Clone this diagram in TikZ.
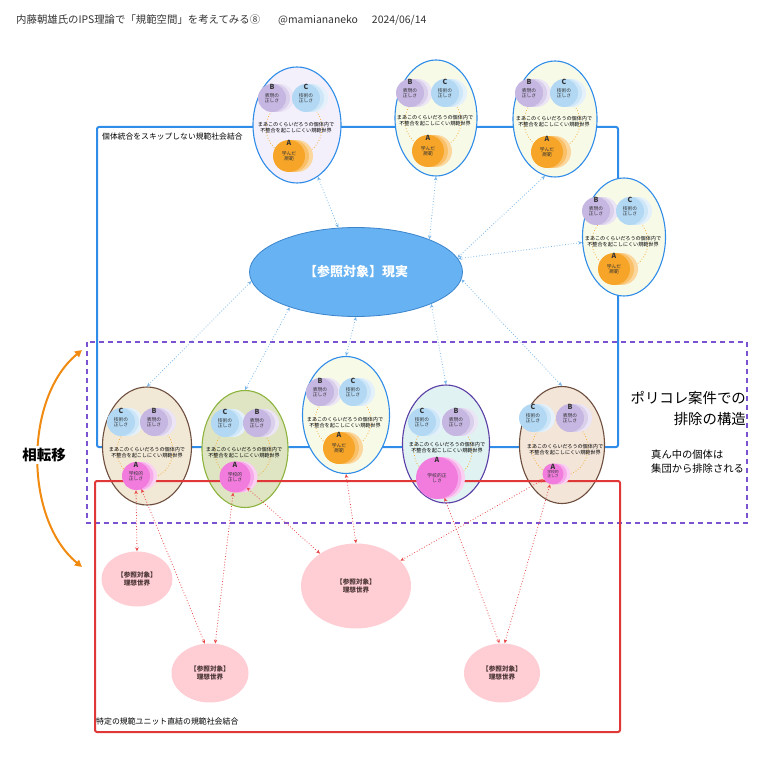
\documentclass[tikz,border=0pt]{standalone}
\usepackage{fontspec}
\setmainfont{Noto Sans CJK JP}
\usetikzlibrary{shapes.geometric,arrows.meta,shadows}

\definecolor{frameblue}{HTML}{2F8CE8}
\definecolor{realblue}{HTML}{66B2F2}
\definecolor{realedge}{HTML}{3C84CC}
\definecolor{arrowblue}{HTML}{78B6EA}
\definecolor{framered}{HTML}{E03838}
\definecolor{arrowred}{HTML}{E84848}
\definecolor{framepurple}{HTML}{7B52CF}
\definecolor{idealpink}{HTML}{FFCDD4}
\definecolor{idealtext}{HTML}{4A3434}
\definecolor{phaseorange}{HTML}{F08A10}
\definecolor{ringorange}{HTML}{F5B041}
\definecolor{lav}{HTML}{C6B6E2}
\definecolor{sky}{HTML}{B2D8F4}
\definecolor{amber}{HTML}{F6A528}
\definecolor{rose}{HTML}{F27CDD}
\definecolor{paleviolet}{HTML}{F3EFFB}
\definecolor{paleyellow}{HTML}{F8FAE8}
\definecolor{paleolive}{HTML}{DFE4C2}
\definecolor{palecyan}{HTML}{E0F2F1}
\definecolor{palebeige}{HTML}{F2E8D6}
\definecolor{palesand}{HTML}{F3E5D8}
\definecolor{edgebrown}{HTML}{6E4E3E}
\definecolor{edgegreen}{HTML}{8DB43E}
\definecolor{edgeviolet}{HTML}{5B3EA6}

\begin{document}
\begin{tikzpicture}[
  x=1pt, y=-1pt,
  every node/.style={inner sep=1pt},
  unit/.style={ellipse, draw=frameblue, line width=1.1pt, minimum width=86pt, minimum height=116pt, inner sep=0pt},
  ring/.style={draw=ringorange, dotted, line width=0.8pt},
  midtext/.style={align=center, font=\fontsize{5.1}{6}\selectfont, text=black},
  disc/.style={circle, inner sep=0pt, minimum size=28pt, align=center, font=\fontsize{4.8}{5.4}\selectfont, text=black!80},
  lavdisc/.style={disc, fill=lav,
    general shadow={shadow xshift=8pt, shadow yshift=0pt, fill=lav!35},
    general shadow={shadow xshift=4pt, shadow yshift=0pt, fill=lav!65}},
  skydisc/.style={disc, fill=sky,
    general shadow={shadow xshift=8pt, shadow yshift=0pt, fill=sky!35},
    general shadow={shadow xshift=4pt, shadow yshift=0pt, fill=sky!65}},
  amberdisc/.style={disc, minimum size=32pt, fill=amber,
    general shadow={shadow xshift=8pt, shadow yshift=0pt, fill=amber!45},
    general shadow={shadow xshift=4pt, shadow yshift=0pt, fill=amber!70}},
  rosedisc/.style={disc, minimum size=#1, fill=rose,
    general shadow={shadow xshift=7pt, shadow yshift=0pt, fill=rose!35},
    general shadow={shadow xshift=3.5pt, shadow yshift=0pt, fill=rose!65}},
  letter/.style={font=\fontsize{7}{7}\selectfont\bfseries, text=black!80, label distance=-7pt},
  ideal/.style={ellipse, fill=idealpink, inner sep=0pt, align=center, text=idealtext, font=\fontsize{6.6}{8.2}\selectfont\bfseries},
  refarrow/.style={draw=arrowblue, dotted, line width=0.8pt, arrows={Stealth[length=4pt,width=3.5pt]-Stealth[length=4pt,width=3.5pt]}},
  idealarrow/.style={draw=arrowred, dotted, line width=0.8pt, arrows={Stealth[length=4pt,width=3.5pt]-Stealth[length=4pt,width=3.5pt]}}]

  \useasboundingbox (0,0) rectangle (775,775);

  %% ---------------- frames ----------------
  \draw[framepurple, line width=1.5pt, dash pattern=on 5pt off 4pt] (87,342) rectangle (747,523);
  \draw[frameblue, line width=2pt, rounded corners=2pt] (97,127) rectangle (618,447);
  \node[anchor=west, font=\fontsize{7.8}{9}\selectfont] (blueTag) at (101,137) {個体統合をスキップしない規範社会結合};

  %% ---------------- reality ----------------
  \node[ellipse, fill=realblue, draw=realedge, line width=0.8pt, minimum width=213pt, minimum height=89pt,
        text=white, font=\fontsize{13}{15}\selectfont\bfseries] (real) at (356,272) {【参照対象】現実};

  %% ---------------- unit outlines ----------------
  \node[unit, fill=paleviolet, minimum width=88pt] (u1) at (297,125) {};
  \node[unit, fill=paleyellow, minimum width=82pt] (u2) at (436,118) {};
  \node[unit, fill=paleyellow, minimum width=84pt] (u3) at (555,119) {};
  \node[unit, fill=paleyellow, minimum width=83pt, minimum height=118pt] (u4) at (624,237) {};
  \node[unit, fill=palebeige, draw=edgebrown, minimum width=89pt, minimum height=118pt] (l1) at (147,446) {};
  \node[unit, fill=paleolive, draw=edgegreen, minimum height=117pt] (l2) at (245,449) {};
  \node[unit, fill=paleyellow, minimum width=87pt, minimum height=117pt] (l3) at (346,415) {};
  \node[unit, fill=palecyan, draw=edgeviolet, minimum width=87pt, minimum height=118pt] (l4) at (446,444) {};
  \node[unit, fill=palesand, draw=edgebrown, minimum width=85pt, minimum height=117pt] (l5) at (562,445) {};

  %% ---------------- red frame ----------------
  \draw[framered, line width=2pt, rounded corners=2pt] (95,481) rectangle (620,732);
  \node[anchor=west, font=\fontsize{7.9}{9}\selectfont] (redTag) at (95,721) {特定の規範ユニット直結の規範社会結合};

  %% ---------------- unit contents ----------------
  % u1
  \draw[ring] (294,128) circle (28pt);
  \node[midtext] (u1t) at (296,128) {まあこのくらいだろうの個体内で\\不整合を起こしにくい規範世界};
  \node[lavdisc, label={[letter]90:B}] (u1b) at (272,98) {表現の\\正しさ};
  \node[skydisc, label={[letter]90:C}] (u1c) at (306,98) {技術の\\正しさ};
  \node[amberdisc, label={[letter]90:A}] (u1a) at (289,156) {学んだ\\規範};
  % u2
  \draw[ring] (433,121) circle (28pt);
  \node[midtext] (u2t) at (435,121) {まあこのくらいだろうの個体内で\\不整合を起こしにくい規範世界};
  \node[lavdisc, label={[letter]90:B}] (u2b) at (410,93) {表現の\\正しさ};
  \node[skydisc, label={[letter]90:C}] (u2c) at (445,93) {技術の\\正しさ};
  \node[amberdisc, label={[letter]90:A}] (u2a) at (428,151) {学んだ\\規範};
  % u3
  \draw[ring] (552,122) circle (28pt);
  \node[midtext] (u3t) at (554,122) {まあこのくらいだろうの個体内で\\不整合を起こしにくい規範世界};
  \node[lavdisc, label={[letter]90:B}] (u3b) at (529,93) {表現の\\正しさ};
  \node[skydisc, label={[letter]90:C}] (u3c) at (564,93) {技術の\\正しさ};
  \node[amberdisc, label={[letter]90:A}] (u3a) at (547,152) {学んだ\\規範};
  % u4
  \draw[ring] (620,242) circle (28pt);
  \node[midtext] (u4t) at (623,242) {まあこのくらいだろうの個体内で\\不整合を起こしにくい規範世界};
  \node[lavdisc, label={[letter]90:B}] (u4b) at (596,211) {表現の\\正しさ};
  \node[skydisc, label={[letter]90:C}] (u4c) at (630,211) {技術の\\正しさ};
  \node[amberdisc, label={[letter]90:A}] (u4a) at (614,269) {学んだ\\規範};
  % l3
  \draw[ring] (343,421) circle (28pt);
  \node[midtext] (l3t) at (345,423) {まあこのくらいだろうの個体内で\\不整合を起こしにくい規範世界};
  \node[lavdisc, label={[letter]90:B}] (l3b) at (320,392) {表現の\\正しさ};
  \node[skydisc, label={[letter]90:C}] (l3c) at (353,392) {技術の\\正しさ};
  \node[amberdisc, label={[letter]90:A}] (l3a) at (339,448) {学んだ\\規範};
  % l1
  \draw[ring] (145,451) circle (28pt);
  \node[midtext] (l1t) at (147,453) {まあこのくらいだろうの個体内で\\不整合を起こしにくい規範世界};
  \node[skydisc, label={[letter]90:C}] (l1c) at (121,422) {技術の\\正しさ};
  \node[lavdisc, label={[letter]90:B}] (l1b) at (154,422) {表現の\\正しさ};
  \node[rosedisc=28pt, label={[letter]90:A}] (l1a) at (136,476) {学校的\\正しさ};
  % l2
  \draw[ring] (243,452) circle (28pt);
  \node[midtext] (l2t) at (244,453) {まあこのくらいだろうの個体内で\\不整合を起こしにくい規範世界};
  \node[skydisc, label={[letter]90:C}] (l2c) at (225,423) {技術の\\正しさ};
  \node[lavdisc, label={[letter]90:B}] (l2b) at (257,423) {表現の\\正しさ};
  \node[rosedisc=31pt, label={[letter]90:A}] (l2a) at (235,477) {学校的\\正しさ};
  % l4
  \draw[ring] (443,451) circle (29pt);
  \node[midtext] (l4t) at (447,448) {まあこのくらいだろうの個体内で\\不整合を起こしにくい規範世界};
  \node[skydisc, label={[letter]90:C}] (l4c) at (422,422) {技術の\\正しさ};
  \node[lavdisc, label={[letter]90:B}] (l4b) at (456,422) {表現の\\正しさ};
  \node[rosedisc=42pt, label={[letter]90:A}] (l4a) at (437,478) {学校的正\\しさ};
  % l5
  \draw[ring] (560,448) circle (28pt);
  \node[midtext] (l5t) at (565,450) {まあこのくらいだろうの個体内で\\不整合を起こしにくい規範世界};
  \node[skydisc, label={[letter]90:C}] (l5c) at (533,418) {技術の\\正しさ};
  \node[lavdisc, label={[letter]90:B}] (l5b) at (570,418) {表現の\\正しさ};
  \node[rosedisc=21pt, font=\fontsize{3.8}{4.4}\selectfont, label={[letter]90:A}] (l5a) at (553,474) {学校的\\正しさ};

  %% ---------------- ideal worlds ----------------
  \node[ideal, minimum width=71pt, minimum height=55pt] (i1) at (137,579) {【参照対象】\\理想世界};
  \node[ideal, minimum width=77pt, minimum height=59pt] (i2) at (210,673) {【参照対象】\\理想世界};
  \node[ideal, minimum width=110pt, minimum height=85pt] (i3) at (356,586) {【参照対象】\\理想世界};
  \node[ideal, minimum width=76pt, minimum height=59pt] (i4) at (502,673) {【参照対象】\\理想世界};

  %% ---------------- connectors ----------------
  % units <-> reality
  \draw[refarrow] (u1) -- (real);
  \draw[refarrow] (u2.south) -- (real.24);
  \draw[refarrow] (u3.-100) -- (real.8);
  \draw[refarrow] (u4) -- (real);
  \draw[refarrow] (real.185) -- (l1.north);
  \draw[refarrow] (real.208) -- (l2.north);
  \draw[refarrow] (real.south) -- (l3.north);
  \draw[refarrow] (real.-23) -- (l4.north);
  \draw[refarrow] (real.-4) -- (l5.north);
  % A units <-> ideal worlds
  \draw[idealarrow] (l1a.south) -- (i1.north);
  \draw[idealarrow] (l1a) -- (i2.100);
  \draw[idealarrow] (l2a) -- (i2.80);
  \draw[idealarrow] (l2a) -- (i3);
  \draw[idealarrow] (l3.south) -- (i3.north);
  \draw[idealarrow] (l4a) -- (i4.95);
  \draw[idealarrow] (l5a) -- (i4.85);
  \draw[idealarrow] (l5a) -- (i3);

  %% ---------------- phase transition ----------------
  \coordinate (phTop) at (82,350);
  \coordinate (phBot) at (82,567);
  \draw[phaseorange, line width=2pt, arrows={Triangle[length=7pt,width=7pt]-Triangle[length=7pt,width=7pt]}]
    (phTop) .. controls (24,398) and (24,519) .. (phBot);
  \node[fill=white, inner sep=2pt, font=\fontsize{14.5}{16}\selectfont\bfseries] (phase) at (44,455) {相転移};

  %% ---------------- side notes ----------------
  \node[anchor=east, align=right, font=\fontsize{14.4}{21}\selectfont] (polc) at (747,408) {ポリコレ案件での\\排除の構造};
  \node[anchor=west, align=left, font=\fontsize{10.3}{14}\selectfont] (excl) at (650,462) {真ん中の個体は\\集団から排除される};

  %% ---------------- title ----------------
  \node[anchor=west, text=black!80, font=\fontsize{10.4}{12}\selectfont] (title) at (15,20)
    {内藤朝雄氏のIPS理論で「規範空間」を考えてみる⑧\hspace{18pt}@mamiananeko\hspace{14pt}2024/06/14};

\end{tikzpicture}
\end{document}
